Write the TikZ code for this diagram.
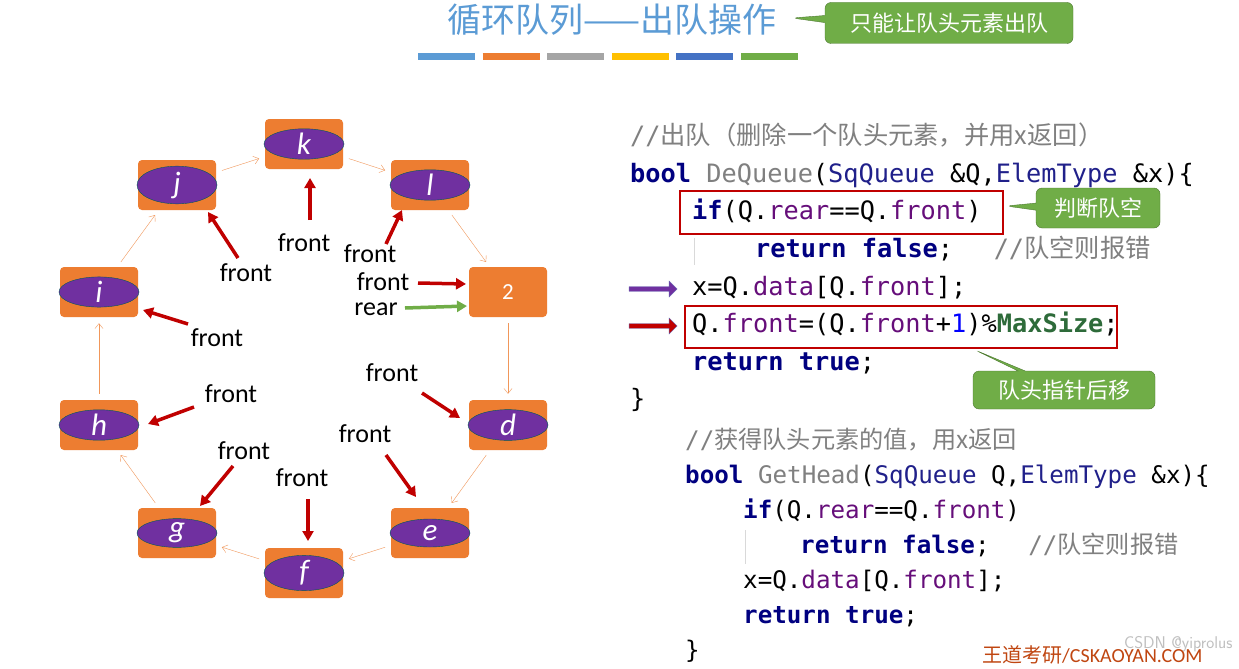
\documentclass[tikz,border=0pt]{standalone}
\usepackage{fontspec}
\setmainfont{Carlito}
\setmonofont{DejaVu Sans Mono}
\newfontfamily\cjk{Noto Sans CJK SC}
\usetikzlibrary{shapes.geometric,shapes.callouts,shapes.arrows,arrows.meta}

\definecolor{cellorange}{HTML}{ED7D31}
\definecolor{cellpurple}{HTML}{7030A0}
\definecolor{darkred}{HTML}{C00000}
\definecolor{callgreen}{HTML}{70AD47}
\definecolor{titleblue}{HTML}{5B9BD5}
\definecolor{kwblue}{HTML}{000080}
\definecolor{typeblue}{HTML}{20208A}
\definecolor{fieldpurple}{HTML}{660E7A}
\definecolor{cgray}{HTML}{808080}
\definecolor{msgreen}{HTML}{2E6B3A}
\definecolor{footred}{HTML}{C04611}

\newcommand{\kw}[1]{\textcolor{kwblue}{\bfseries #1}}
\newcommand{\fld}[1]{\textcolor{fieldpurple}{#1}}
\newcommand{\typ}[1]{\textcolor{typeblue}{#1}}
\newcommand{\cmt}[1]{\textcolor{cgray}{#1}}

\tikzset{
  cell/.style={rectangle,rounded corners=4pt,fill=cellorange,minimum width=78pt,minimum height=50pt,inner sep=0pt},
  oval/.style={ellipse,fill=cellpurple,draw=teal!70!black,thin,minimum width=80pt,minimum height=28pt,inner sep=0pt,
    text=white,font=\fontsize{31}{31}\selectfont\itshape},
  link/.style={-{Straight Barb[length=5pt,width=8pt]},cellorange!80,thin,shorten >=6pt,shorten <=6pt},
  ptr/.style={-{Triangle[length=10pt,width=11pt]},darkred,line width=3.5pt},
  lab/.style={font=\fontsize{26}{26}\selectfont,inner sep=0pt},
  code/.style={anchor=west,inner sep=0pt,text height=18pt,text depth=5pt,font=\fontsize{25.3}{24}\selectfont\ttfamily},
  code2/.style={code,font=\fontsize{24.2}{24}\selectfont\ttfamily},
  hl/.style={draw=darkred,line width=2.5pt},
  note/.style={rectangle callout,rounded corners=6pt,fill=callgreen,draw=callgreen!70!black,text=white,
    font=\fontsize{22}{22}\selectfont\cjk,inner xsep=10pt,inner ysep=7pt},
  bar/.style={line width=7pt}
}

\begin{document}
\begin{tikzpicture}[x=1pt,y=-1pt]
  \useasboundingbox[fill=white] (0,0) rectangle (1239,669);

  % title
  \node[text=titleblue,font=\fontsize{34}{34}\selectfont\cjk] (title) at (612,20) {循环队列——出队操作};
  \node[note,minimum width=248pt,minimum height=41pt,callout absolute pointer={(792,18)}] (tnote) at (949,23) {只能让队头元素出队};
  \foreach \c [count=\i] in {5B9BD5,ED7D31,A5A5A5,FFC000,4472C4,70AD47}{
    \definecolor{barc}{HTML}{\c}
    \draw[bar,barc] ({418+(\i-1)*64.6},57) -- ++(57,0);
  }

  % circular queue
  \node[cell] (k) at (304,144) {}; \node[oval] at (k) {k};
  \node[cell] (l) at (430,185) {}; \node[oval] at (l) {l};
  \node[cell,text=white,font=\fontsize{23}{23}\selectfont] (two) at (508,292) {2};
  \node[cell] (d) at (508,425) {}; \node[oval] at (d) {d};
  \node[cell] (e) at (430,533) {}; \node[oval] at (e) {e};
  \node[cell] (f) at (304,573) {}; \node[oval] at (f) {f};
  \node[cell] (g) at (177,533) {}; \node[oval] at (g) {g};
  \node[cell] (h) at (99,425) {};  \node[oval] at (h) {h};
  \node[cell] (i) at (99,292) {};  \node[oval] at (i) {i};
  \node[cell] (j) at (177,185) {}; \node[oval] at (j) {j};

  \draw[link] (k) -- (l);
  \draw[link] (l) -- (two);
  \draw[link] (two) -- (d);
  \draw[link] (d) -- (e);
  \draw[link] (e) -- (f);
  \draw[link] (f) -- (g);
  \draw[link] (g) -- (h);
  \draw[link] (h) -- (i);
  \draw[link] (i) -- (j);
  \draw[link] (j) -- (k);

  % front / rear pointers
  \node[lab] (fk) at (304,243) {front};
  \node[lab] (fj) at (246,273) {front};
  \node[lab] (fl) at (370,254) {front};
  \node[lab] (ftwo) at (383,282) {front};
  \node[lab] (rtwo) at (376,309) {rear};
  \node[lab] (fi) at (217,338) {front};
  \node[lab] (fh) at (231,394) {front};
  \node[lab] (fd) at (392,373) {front};
  \node[lab] (fe) at (365,434) {front};
  \node[lab] (fg) at (244,451) {front};
  \node[lab] (ff) at (302,478) {front};

  \draw[ptr] ([shift={(6,-23)}]fk.center) -- ([shift={(6,34)}]k.center);
  \draw[ptr] ([shift={(-8,-15)}]fj.center) -- ([shift={(31,27)}]j.center);
  \draw[ptr] ([shift={(16,-10)}]fl.center) -- ([shift={(-28,25)}]l.center);
  \draw[ptr] ([shift={(35,1)}]ftwo.center) -- ([shift={(-42,-8)}]two.center);
  \draw[ptr,color=callgreen] ([shift={(29,-1)}]rtwo.center) -- ([shift={(-41,14)}]two.center);
  \draw[ptr] ([shift={(-29,-14)}]fi.center) -- ([shift={(44,18)}]i.center);
  \draw[ptr] ([shift={(-37,13)}]fh.center) -- ([shift={(49,-1)}]h.center);
  \draw[ptr] ([shift={(30,20)}]fd.center) -- ([shift={(-48,-7)}]d.center);
  \draw[ptr] ([shift={(21,21)}]fe.center) -- ([shift={(-14,-36)}]e.center);
  \draw[ptr] ([shift={(-11,15)}]fg.center) -- ([shift={(23,-27)}]g.center);
  \draw[ptr] ([shift={(6,21)}]ff.center) -- ([shift={(4,-32)}]f.center);

  % DeQueue
  \node[code] (c1) at (630,138) {\cmt{//\cjk 出队（删除一个队头元素，并用\textit{x}返回）}};
  \node[code] (c2) at (630,176) {\kw{bool} \cmt{DeQueue}(\typ{SqQueue} \&Q,\typ{ElemType} \&x)\{};
  \node[code] (c3) at (692,213) {\kw{if}(Q.\fld{rear}==Q.\fld{front})};
  \node[code] (c4) at (755,251) {\kw{return false};\quad\ \cmt{//\cjk 队空则报错}};
  \node[code] (c5) at (692,289) {x=Q.\fld{data}[Q.\fld{front}];};
  \node[code] (c6) at (692,326) {Q.\fld{front}=(Q.\fld{front}+\textcolor{blue}{1})\%\textcolor{msgreen}{\bfseries MaxSize};};
  \node[code] (c7) at (692,364) {\kw{return true};};
  \node[code] (c8) at (630,401) {\}};
  \draw[gray!30,thin] (694,238) -- (694,265);

  \draw[hl] (680,191) rectangle (1003,234);
  \draw[hl] (685,306) rectangle (1117,348);

  \node[single arrow,fill=cellpurple,draw=kwblue!60,minimum height=48pt,minimum width=16pt,
        single arrow head extend=3pt,inner sep=1pt] (pa) at (652,289) {};
  \node[single arrow,fill=darkred,draw=kwblue!60,minimum height=48pt,minimum width=16pt,
        single arrow head extend=3pt,inner sep=1pt] (ra) at (652,326) {};

  \node[note,minimum width=124pt,minimum height=40pt,callout absolute pointer={(1006,206)}] (n1) at (1098,208) {判断队空};
  \node[note,minimum width=182pt,minimum height=38pt,callout absolute pointer={(975,350)}] (n2) at (1064,390) {队头指针后移};

  % GetHead
  \node[code2] (g1) at (685,442) {\cmt{//\cjk 获得队头元素的值，用\textit{x}返回}};
  \node[code2] (g2) at (685,477) {\kw{bool} \cmt{GetHead}(\typ{SqQueue} Q,\typ{ElemType} \&x)\{};
  \node[code2] (g3) at (743,512) {\kw{if}(Q.\fld{rear}==Q.\fld{front})};
  \node[code2] (g4) at (800,547) {\kw{return false};\quad\ \cmt{//\cjk 队空则报错}};
  \node[code2] (g5) at (743,582) {x=Q.\fld{data}[Q.\fld{front}];};
  \node[code2] (g6) at (743,617) {\kw{return true};};
  \node[code2] (g7) at (685,652) {\}};
  \draw[gray!30,thin] (745,530) -- (745,564);

  % footer
  \node[text=gray!50,font=\fontsize{17}{17}\selectfont\sffamily,anchor=east] (csdn) at (1236,644) {CSDN @yiprolus};
  \node[text=footred,font=\fontsize{20}{20}\selectfont,anchor=east] (wd) at (1206,655) {{\cjk 王道考研}/CSKAOYAN.COM};
\end{tikzpicture}
\end{document}
